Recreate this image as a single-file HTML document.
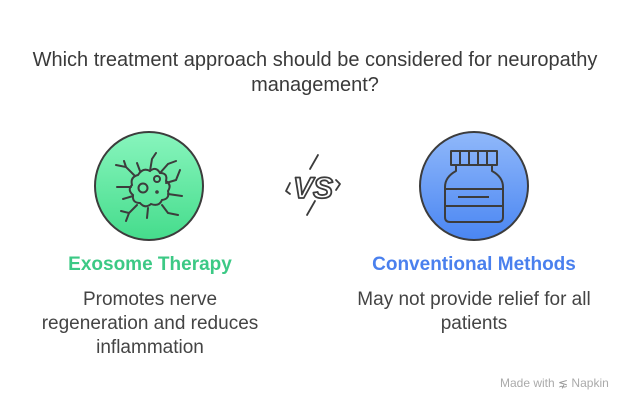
<!DOCTYPE html>
<html><head><meta charset="utf-8"><style>
body{margin:0;width:630px;height:408px;background:#fff;position:relative;overflow:hidden;font-family:"Liberation Sans",sans-serif;color:#444}
.t{position:absolute;text-align:center;white-space:nowrap}
</style></head><body>
<div class="t" style="left:0;width:630px;top:48px;font-size:20px;line-height:25px;color:#3a3a3a">Which treatment approach should be considered for neuropathy<br>management?</div>
<svg width="630" height="408" style="position:absolute;left:0;top:0">
<defs>
<linearGradient id="g" x1="0" y1="0" x2="0" y2="1"><stop offset="0" stop-color="#88f5bd"/><stop offset="1" stop-color="#45dc8c"/></linearGradient>
<linearGradient id="b" x1="0" y1="0" x2="0" y2="1"><stop offset="0" stop-color="#90b8fa"/><stop offset="1" stop-color="#4a86f2"/></linearGradient>
</defs>
<circle cx="149" cy="186" r="54" fill="url(#g)" stroke="#3c3c3c" stroke-width="2"/>
<g fill="none" stroke="#3c3c3c" stroke-width="2" stroke-linecap="round">
<path d="M138 175 q5-8 12-4 q6-5 10 2 q8 0 6 8 q6 4 2 10 q2 8-6 9 q-3 7-11 4 q-6 5-11-1 q-8 0-7-8 q-6-5-1-10 q-2-8 6-10z"/>
<circle cx="143" cy="188" r="4.5"/><circle cx="157" cy="179" r="3"/><circle cx="157" cy="192" r="0.8"/>
<path d="M134 175 l-8-8 l-10-2 M126 167 l-2-6 M140 171 l-3-8 M150 171 l2-12 l4-6 M160 173 l8-9 l8-3 M166 183 l10-3 l4-10 M168 194 l14 2 M162 205 l6 8 l10 2 M148 208 l-1 10 M137 205 l-8 8 l-3 8 M133 196 l-10 3 M131 187 l-14 0 M129 213 l-8-2"/>
</g>
<g fill="none" stroke="#3c3c3c" stroke-width="1.8" stroke-linejoin="round" stroke-linecap="round">
<path d="M318 155 l-8 14 M307 215 l8-14"/>
<path d="M290 183 l-4 8 l4 3 M336 180 l4 4 l-4 6"/>
</g>
<text x="313" y="198" text-anchor="middle" font-family="Liberation Sans" font-weight="bold" font-style="italic" font-size="30" fill="#fff" stroke="#3c3c3c" stroke-width="1.8" stroke-linejoin="round">VS</text>
<circle cx="474" cy="186" r="54" fill="url(#b)" stroke="#3c3c3c" stroke-width="2"/>
<g fill="none" stroke="#3c3c3c" stroke-width="2" stroke-linejoin="round">
<rect x="451" y="151" width="46" height="14"/>
<path d="M460 151v14M469 151v14M478 151v14M487 151v14"/>
<path d="M456 165v6q-11 6-11 16v30q0 5 5 5h48q5 0 5-5v-30q0-10-11-16v-6"/>
<path d="M445 189h58M445 206h58M458 197h31"/>
</g>
</svg>
<div class="t" style="left:0;width:300px;top:254px;font-size:19px;font-weight:bold;color:#3cc985">Exosome Therapy</div>
<div class="t" style="left:0;width:300px;top:288px;font-size:19px;line-height:24px;color:#444">Promotes nerve<br>regeneration and reduces<br>inflammation</div>
<div class="t" style="left:324px;width:300px;top:254px;font-size:19px;font-weight:bold;color:#4a80ee">Conventional Methods</div>
<div class="t" style="left:324px;width:300px;top:288px;font-size:19px;line-height:24px;color:#444">May not provide relief for all<br>patients</div>
<div class="t" style="left:500px;top:376px;font-size:12px;color:#aaa">Made with <span style="color:#999">⋦</span> Napkin</div>
</body></html>
